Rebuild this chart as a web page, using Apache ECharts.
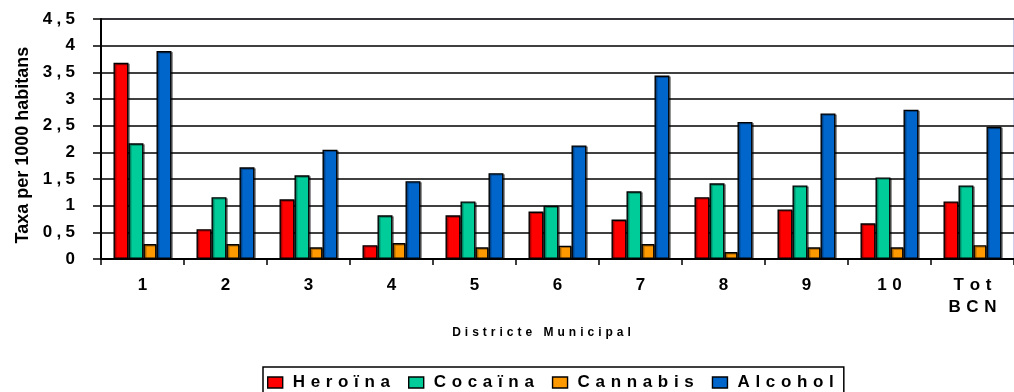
<!DOCTYPE html>
<html>
<head>
<meta charset="utf-8">
<script src="https://cdn.jsdelivr.net/npm/echarts@6/dist/echarts.min.js"></script>
<style>
  html, body { margin: 0; padding: 0; background: #fff; }
  #chart { width: 1014px; height: 392px; }
</style>
</head>
<body>
<div id="chart"></div>
<script>
// Districts of Barcelona plus the city total
const categories = ['1', '2', '3', '4', '5', '6', '7', '8', '9', '10', 'Tot\nBCN'];

// Rate per 1000 inhabitants, by substance
const heroina  = [3.68, 0.56, 1.12, 0.26, 0.82, 0.89, 0.74, 1.16, 0.93, 0.67, 1.08];
const cocaina  = [2.17, 1.16, 1.57, 0.82, 1.08, 1.00, 1.27, 1.42, 1.38, 1.53, 1.38];
const cannabis = [0.28, 0.28, 0.22, 0.30, 0.22, 0.25, 0.28, 0.13, 0.22, 0.22, 0.26];
const alcohol  = [3.90, 1.72, 2.05, 1.46, 1.61, 2.13, 3.44, 2.57, 2.73, 2.80, 2.48];

const seriesNames = ['Heroïna', 'Cocaïna', 'Cannabis', 'Alcohol'];
const yTicks = { min: 0, max: 4.5, step: 0.5 };

const FONT = "'Liberation Sans', Arial, Helvetica, sans-serif";
const THIRD_SPACE = '\u2004';
const QUARTER_SPACE = '\u2005';

// Widen the text by putting a space between each pair of characters
function spaced(text, gap) {
  return text.split('\n').map(line => Array.from(line).join(gap)).join('\n');
}

function barSeries(name, data, color, width) {
  return {
    name: name,
    type: 'bar',
    data: data,
    barWidth: width,
    barGap: '0%',
    itemStyle: {
      color: color,
      borderColor: '#000',
      borderWidth: 1.4,
      shadowColor: 'rgba(0,0,0,0.35)',
      shadowOffsetX: 1.5,
      shadowOffsetY: 1,
      shadowBlur: 0
    }
  };
}

const chart = echarts.init(document.getElementById('chart'), null, { renderer: 'canvas' });

chart.setOption({
  animation: false,
  backgroundColor: '#fff',
  textStyle: { fontFamily: FONT },
  grid: {
    left: 101,
    right: -12,
    top: 19,
    bottom: 133,
    show: true,
    borderColor: '#9c9cd0',
    borderWidth: 1
  },
  legend: {
    data: seriesNames,
    left: 263,
    top: 367,
    orient: 'horizontal',
    icon: 'rect',
    itemWidth: 15,
    itemHeight: 11,
    itemGap: 18,
    padding: [7, 10, 10, 4],
    borderColor: '#000',
    borderWidth: 1.5,
    itemStyle: { borderColor: '#000', borderWidth: 1.4, shadowColor: 'transparent' },
    formatter: name => spaced(name, THIRD_SPACE),
    textStyle: {
      fontFamily: FONT,
      fontSize: 17,
      fontWeight: 'bold',
      color: '#000',
      padding: [0, 0, 0, 5]
    }
  },
  xAxis: {
    type: 'category',
    data: categories,
    name: spaced('Districte Municipal', THIRD_SPACE),
    nameLocation: 'middle',
    nameGap: 68,
    nameTextStyle: {
      fontFamily: FONT,
      fontSize: 12,
      fontWeight: 'bold',
      color: '#000',
      padding: [0, 32, 0, 0]
    },
    axisLine: { show: true, lineStyle: { color: '#000', width: 2 } },
    axisTick: { show: true, alignWithLabel: false, length: 6, lineStyle: { color: '#000', width: 1.5 } },
    axisLabel: {
      interval: 0,
      margin: 15,
      fontFamily: FONT,
      fontSize: 17,
      fontWeight: 'bold',
      lineHeight: 22,
      color: '#000',
      formatter: v => spaced(v, THIRD_SPACE)
    },
    splitLine: { show: false }
  },
  yAxis: {
    type: 'value',
    min: yTicks.min,
    max: yTicks.max,
    interval: yTicks.step,
    name: 'Taxa per 1000 habitans',
    nameLocation: 'middle',
    nameRotate: 90,
    nameGap: 69,
    nameTextStyle: {
      fontFamily: FONT,
      fontSize: 18,
      fontWeight: 'bold',
      color: '#000',
      padding: [0, 12, 0, 0]
    },
    axisLine: { show: true, lineStyle: { color: '#000', width: 2 } },
    axisTick: { show: true, length: 8, lineStyle: { color: '#000', width: 1.5 } },
    axisLabel: {
      margin: 26,
      fontFamily: FONT,
      fontSize: 17,
      fontWeight: 'bold',
      color: '#000',
      formatter: v => spaced(String(v).replace('.', ','), QUARTER_SPACE)
    },
    splitLine: { show: true, lineStyle: { color: '#000', width: 1.5 } }
  },
  series: [
    barSeries(seriesNames[0], heroina, '#ff0000', 15),
    barSeries(seriesNames[1], cocaina, '#00cc99', 15),
    barSeries(seriesNames[2], cannabis, '#ff9900', 13),
    barSeries(seriesNames[3], alcohol, '#0066cc', 15)
  ]
});
</script>
</body>
</html>
